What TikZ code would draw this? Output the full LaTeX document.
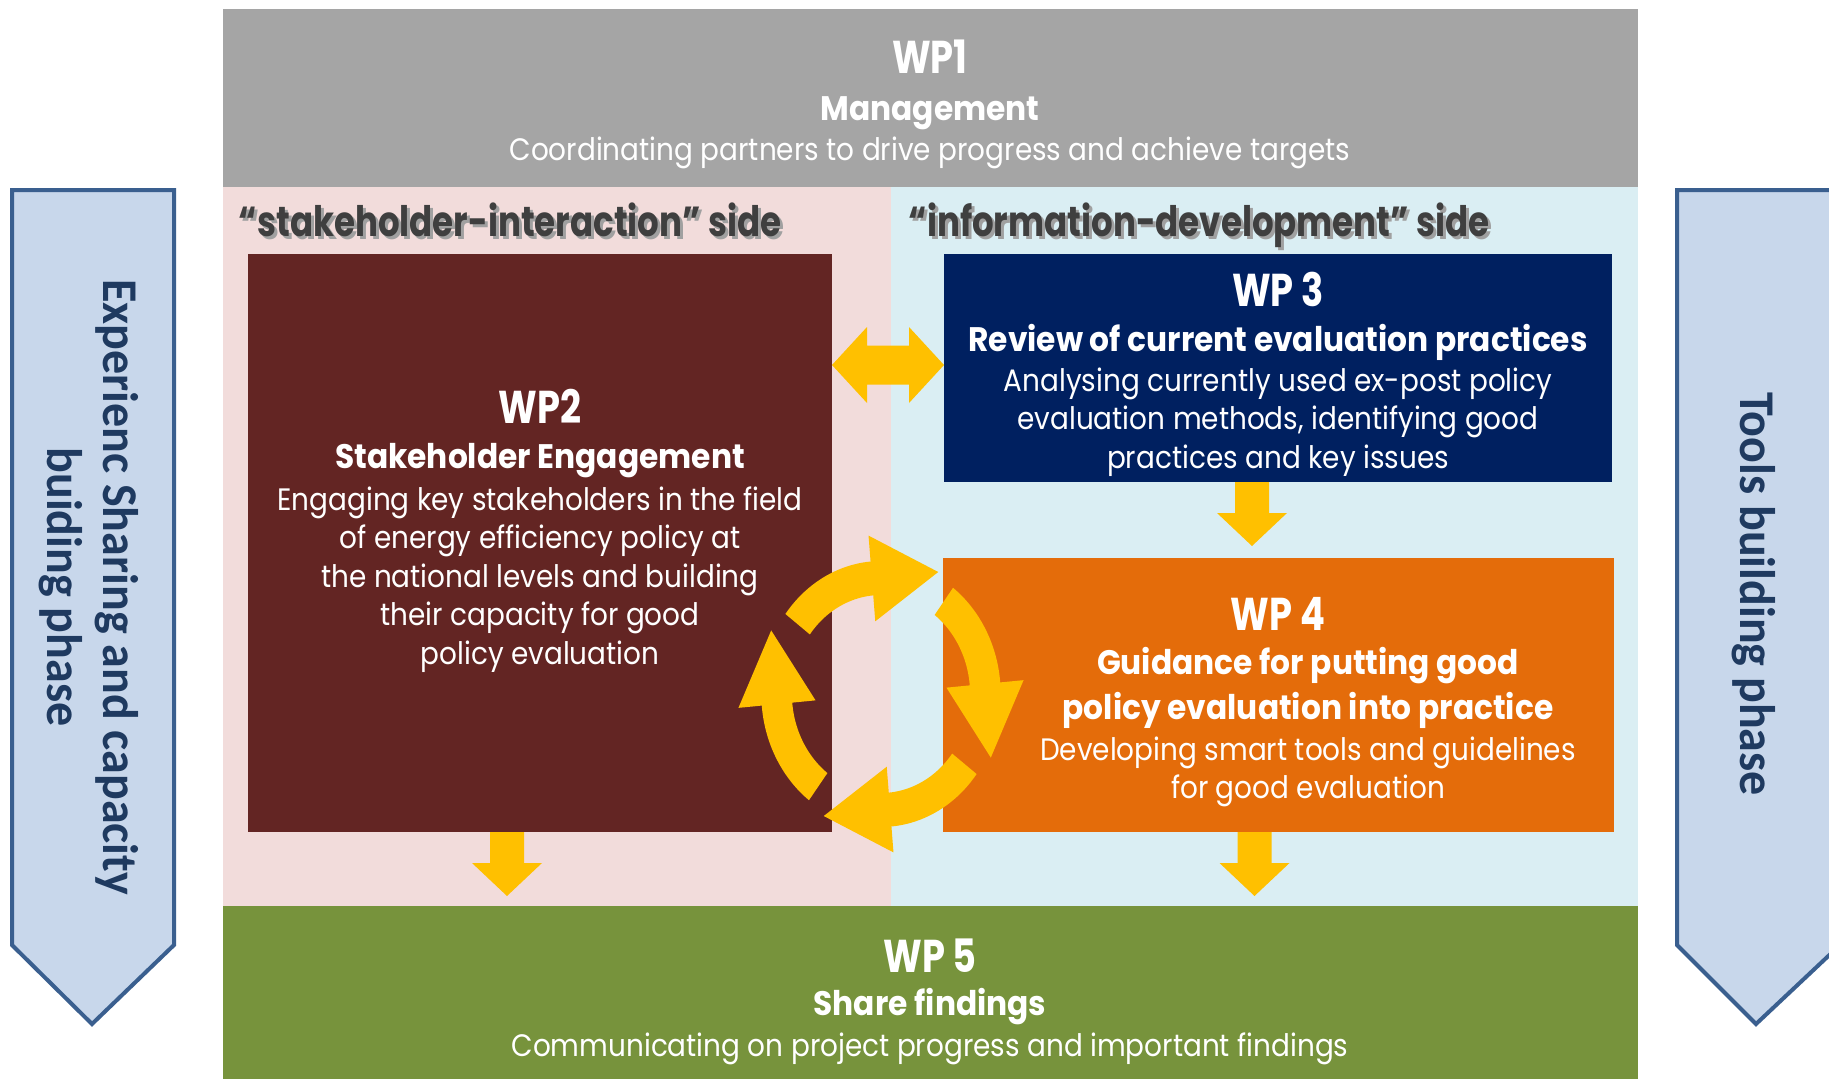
\documentclass[tikz,border=0pt]{standalone}
\usepackage{fontspec}
\setmainfont{Poppins}[FakeStretch=0.82]
\newfontfamily\bodyfont{Poppins}[FakeStretch=0.90]
\newfontfamily\subfont{Poppins}[FakeStretch=0.92]
\newfontfamily\numfont{Poppins}[FakeStretch=0.80]
\newfontfamily\sidefont{Poppins}[FakeStretch=0.81]
\newfontfamily\arrowfont{Carlito}[FakeStretch=0.96]
\usetikzlibrary{calc}
\definecolor{wpgrey}{HTML}{A5A5A5}
\definecolor{sidepink}{HTML}{F2DCDB}
\definecolor{sideblue}{HTML}{DAEEF3}
\definecolor{wpred}{HTML}{632523}
\definecolor{wpnavy}{HTML}{002060}
\definecolor{wporange}{HTML}{E46C0A}
\definecolor{wpgreen}{HTML}{77933C}
\definecolor{yel}{HTML}{FFC000}
\definecolor{phaseline}{HTML}{3A5F8F}
\definecolor{phasefill}{HTML}{C8D7EB}
\definecolor{phasetext}{HTML}{1F3A60}
\definecolor{headgrey}{HTML}{3F3F3F}
\definecolor{shadowgrey}{HTML}{A0A0A0}
\begin{document}
\begin{tikzpicture}[x=1pt,y=-1pt,
  area/.style={inner sep=0pt, outer sep=0pt, anchor=north west, draw=none},
  wpnum/.style={anchor=base, text=white, font=\numfont\fontsize{46}{50}\selectfont\bfseries, inner sep=0pt},
  wpsub/.style={anchor=base, text=white, font=\subfont\fontsize{34}{40}\selectfont\bfseries, inner sep=0pt},
  wpbody/.style={anchor=base, text=white, font=\bodyfont\fontsize{31}{38}\selectfont, inner sep=0pt},
  sidehead/.style={anchor=base, text=headgrey, font=\sidefont\fontsize{42}{46}\selectfont\bfseries, inner sep=0pt},
  sideshadow/.style={anchor=base, text=shadowgrey, font=\sidefont\fontsize{42}{46}\selectfont\bfseries, inner sep=0pt},
  phase/.style={fill=phasefill, draw=phaseline, line width=4pt, line join=miter},
  phasetxt/.style={rotate=-90, align=center, text=phasetext, font=\arrowfont\fontsize{50}{56}\selectfont\bfseries, inner sep=0pt},
  blockarrow/.style={fill=yel, draw=none}
]
\useasboundingbox (0,0) rectangle (1829,1079);
\fill[white] (0,0) rectangle (1829,1079);

% phase arrows
\draw[phase] (12,190) -- (174,190) -- (174,945) -- (92,1024) -- (12,945) -- cycle;
\draw[phase] (1677,190) -- (1840,190) -- (1840,945) -- (1756,1024) -- (1677,945) -- cycle;
\node[phasetxt] (phL) at (89,587) {Experienc Sharing and capacity\\buiding phase};
\node[phasetxt] (phR) at (1754,594) {Tools building phase};

% background areas
\node[area, fill=wpgrey, minimum width=1415pt, minimum height=178pt] (wp1) at (223,9) {};
\node[area, fill=sidepink, minimum width=668pt, minimum height=719pt] (pinkside) at (223,187) {};
\node[area, fill=sideblue, minimum width=747pt, minimum height=719pt] (blueside) at (891,187) {};
\node[area, fill=wpgreen, minimum width=1415pt, minimum height=173pt] (wp5) at (223,906) {};

% WP boxes
\node[area, fill=wpred, minimum width=584pt, minimum height=578pt] (wp2) at (248,254) {};
\node[area, fill=wpnavy, minimum width=668pt, minimum height=228pt] (wp3) at (944,254) {};
\node[area, fill=wporange, minimum width=671pt, minimum height=274pt] (wp4) at (943,558) {};

% double arrow WP2 <-> WP3
\coordinate (dl) at ($(wp2.north east)+(0,111)$);
\coordinate (dr) at (dl -| wp3.west);
\fill[blockarrow] (dl) -- ($(dl)+(35,-38)$) -- ($(dl)+(35,-19.5)$) -- ($(dr)+(-35,-19.5)$)
  -- ($(dr)+(-35,-38)$) -- (dr) -- ($(dr)+(-35,38)$) -- ($(dr)+(-35,19.5)$)
  -- ($(dl)+(35,19.5)$) -- ($(dl)+(35,38)$) -- cycle;

% down arrows
\newcommand\ydownarr[2]{%
  \fill[blockarrow] ($(#1)+(-17,0)$) -- ($(#1)+(17,0)$) -- ($(#2)+(17,-33)$) -- ($(#2)+(35,-33)$)
    -- (#2) -- ($(#2)+(-35,-33)$) -- ($(#2)+(-17,-33)$) -- cycle;}
\coordinate (d1s) at ($(wp3.south)+(-26,0)$);
\coordinate (d1e) at ($(d1s |- wp4.north)+(0,-12)$);
\coordinate (d2s) at ($(wp2.south)+(-33,0)$);
\coordinate (d2e) at ($(d2s |- wp5.north)+(0,-10)$);
\coordinate (d3s) at ($(wp4.south)+(-24,0)$);
\coordinate (d3e) at ($(d3s |- wp5.north)+(0,-10)$);
\ydownarr{d1s}{d1e}
\ydownarr{d2s}{d2e}
\ydownarr{d3s}{d3e}

% cycle arrows
\def\ccx{881}\def\ccy{694}\def\csx{0.9}
\foreach \k in {0,1,2,3}{
  \pgfmathsetmacro\ta{-143+90*\k}
  \pgfmathsetmacro\tb{-95+90*\k}
  \fill[yel] plot[domain=\ta:\tb,samples=25] ({\ccx+\csx*133*cos(\x)},{\ccy+133*sin(\x)})
    -- ({\ccx+\csx*159*cos(\tb)},{\ccy+159*sin(\tb)})
    -- ({\ccx+\csx*(116*cos(\tb)-74*sin(\tb))},{\ccy+116*sin(\tb)+74*cos(\tb)})
    -- ({\ccx+\csx*73*cos(\tb)},{\ccy+73*sin(\tb)})
    -- plot[domain=\tb:\ta,samples=25] ({\ccx+\csx*99*cos(\x)},{\ccy+99*sin(\x)}) -- cycle;
}

% WP1 texts
\node[wpnum] (wp1n) at (930,73) {WP1};
\node[wpsub] (wp1s) at (930,120) {Management};
\node[wpbody] (wp1b) at (930,160) {Coordinating partners to drive progress and achieve targets};

% side headings
\node[sideshadow] (shl) at (513,239) {“stakeholder-interaction” side};
\node[sidehead] (hl) at (510,236) {“stakeholder-interaction” side};
\node[sideshadow] (shr) at (1202,239) {“information-development” side};
\node[sidehead] (hr) at (1199,236) {“information-development” side};

% WP2 texts
\node[wpnum] (wp2n) at (540,423) {WP2};
\node[wpsub] (wp2s) at (540,468) {Stakeholder Engagement};
\node[wpbody] (wp2b1) at (540,510) {Engaging key stakeholders in the field};
\node[wpbody] (wp2b2) at (540,548) {of energy efficiency policy at};
\node[wpbody] (wp2b3) at (540,587) {the national levels and building};
\node[wpbody] (wp2b4) at (540,625) {their capacity for good};
\node[wpbody] (wp2b5) at (540,664) {policy evaluation};

% WP3 texts
\node[wpnum] (wp3n) at (1278,306) {WP 3};
\node[wpsub] (wp3s) at (1278,351) {Review of current evaluation practices};
\node[wpbody] (wp3b1) at (1278,391) {Analysing currently used ex-post policy};
\node[wpbody] (wp3b2) at (1278,429) {evaluation methods, identifying good};
\node[wpbody] (wp3b3) at (1278,468) {practices and key issues};

% WP4 texts
\node[wpnum] (wp4n) at (1278,630) {WP 4};
\node[wpsub] (wp4s1) at (1308,674) {Guidance for putting good};
\node[wpsub] (wp4s2) at (1308,719) {policy evaluation into practice};
\node[wpbody] (wp4b1) at (1308,760) {Developing smart tools and guidelines};
\node[wpbody] (wp4b2) at (1308,798) {for good evaluation};

% WP5 texts
\node[wpnum] (wp5n) at (930,972) {WP 5};
\node[wpsub] (wp5s) at (930,1015) {Share findings};
\node[wpbody] (wp5b) at (930,1056) {Communicating on project progress and important findings};
\end{tikzpicture}
\end{document}
